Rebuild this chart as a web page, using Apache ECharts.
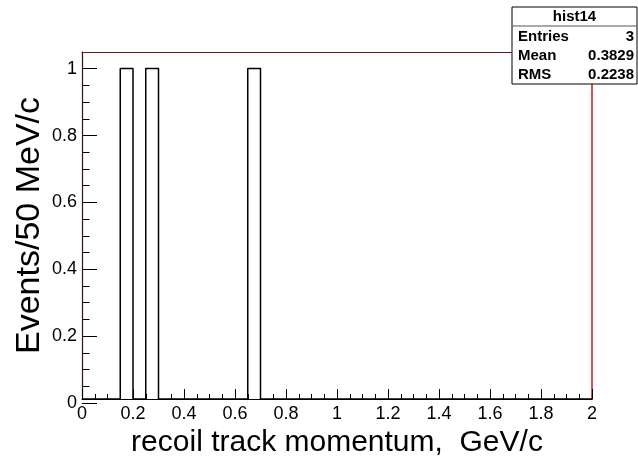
<!DOCTYPE html>
<html><head><meta charset="utf-8">
<script src="https://cdn.jsdelivr.net/npm/echarts@6/dist/echarts.min.js"></script>
<style>html,body{margin:0;padding:0;background:#fff}#c{width:638px;height:463px}</style>
</head><body><div id="c"></div>
<script>
// histogram: 40 bins of 50 MeV/c from 0 to 2 GeV/c
const binLow = 0;
const binWidth = 0.05;
const counts = [0,0,0,1,0,1,0,0,0,0,
                0,0,0,1,0,0,0,0,0,0,
                0,0,0,0,0,0,0,0,0,0,
                0,0,0,0,0,0,0,0,0,0];
const xRange = [0, 2];
const yRange = [0, 1.05];
const yTickMax = 1;
const statsTitle = 'hist14';
const statsNames = ['Entries', 'Mean', 'RMS'];
const statsValues = ['3', '0.3829', '0.2238'];
const xTitle = 'recoil track momentum,  GeV/c';
const yTitle = 'Events/50 MeV/c';

const FONT = 'Liberation Sans';
const pts = counts.map((c, i) => [binLow + i * binWidth, c]);
pts.push([binLow + counts.length * binWidth, counts[counts.length - 1]]);

const gl = 82, gr = 46, gt = 52, gb = 60;
const plotH = 463 - gt - gb;
const gt2 = gt + plotH * (yRange[1] - yTickMax) / (yRange[1] - yRange[0]);

const chart = echarts.init(document.getElementById('c'), null, {renderer: 'canvas'});
const boxX = 512, boxY = 7, boxW = 125, boxH = 77;
const rowH = (boxH - 19) / 3;
const graphics = [
  {type: 'rect', z: 100, shape: {x: boxX, y: boxY, width: boxW, height: boxH},
   style: {fill: '#fff', stroke: '#000', lineWidth: 1}},
  {type: 'line', z: 101, shape: {x1: boxX, y1: boxY + 19, x2: boxX + boxW, y2: boxY + 19},
   style: {stroke: '#555', lineWidth: 1}},
  {type: 'text', z: 101, x: boxX + boxW / 2, y: boxY + 10,
   style: {text: statsTitle, font: 'bold 15px "' + FONT + '"', fill: '#000', align: 'center', verticalAlign: 'middle'}}
];
statsNames.forEach((n, i) => {
  const cy = boxY + 19 + rowH * (i + 0.5) + 1;
  graphics.push({type: 'text', z: 101, x: boxX + 6, y: cy,
    style: {text: n, font: 'bold 15px "' + FONT + '"', fill: '#000', align: 'left', verticalAlign: 'middle'}});
  graphics.push({type: 'text', z: 101, x: boxX + boxW - 3, y: cy,
    style: {text: statsValues[i], font: 'bold 15px "' + FONT + '"', fill: '#000', align: 'right', verticalAlign: 'middle'}});
});

chart.setOption({
  animation: false,
  backgroundColor: '#fff',
  textStyle: {fontFamily: FONT},
  grid: [
    {left: gl, right: gr, top: gt, bottom: gb, show: false},
    {left: gl, right: gr, top: gt2, bottom: gb, show: false}
  ],
  xAxis: [
    {gridIndex: 0, type: 'value', min: xRange[0], max: xRange[1], interval: 0.2, position: 'bottom',
     axisLine: {show: true, onZero: false, lineStyle: {color: '#000', width: 1.2}},
     axisTick: {show: true, inside: true, length: 10, lineStyle: {color: '#000', width: 1}},
     minorTick: {show: true, splitNumber: 4, length: 5, lineStyle: {color: '#000', width: 1}},
     splitLine: {show: false},
     axisLabel: {show: true, margin: 6, fontSize: 18, color: '#000', fontFamily: FONT},
     name: xTitle, nameLocation: 'middle', nameGap: 29,
     nameTextStyle: {fontSize: 30, color: '#000', fontFamily: FONT}},
    {gridIndex: 0, type: 'value', min: xRange[0], max: xRange[1], position: 'top',
     axisLine: {show: true, onZero: false, lineStyle: {color: '#6e1a1a', width: 1.2}},
     axisTick: {show: false}, axisLabel: {show: false}, splitLine: {show: false}},
    {gridIndex: 1, type: 'value', min: xRange[0], max: xRange[1], show: false}
  ],
  yAxis: [
    {gridIndex: 0, type: 'value', min: yRange[0], max: yRange[1], position: 'left',
     axisLine: {show: true, onZero: false, lineStyle: {color: '#3a0d0d', width: 1.2}},
     axisTick: {show: false}, axisLabel: {show: false}, splitLine: {show: false},
     name: yTitle, nameLocation: 'middle', nameGap: 35,
     nameTextStyle: {fontSize: 34, color: '#000', fontFamily: FONT}},
    {gridIndex: 0, type: 'value', min: yRange[0], max: yRange[1], position: 'right',
     axisLine: {show: true, onZero: false, lineStyle: {color: '#cc1010', width: 1.5}},
     axisTick: {show: false}, axisLabel: {show: false}, splitLine: {show: false}},
    {gridIndex: 1, type: 'value', min: yRange[0], max: yTickMax, interval: 0.2, position: 'left',
     axisLine: {show: false},
     axisTick: {show: true, inside: true, length: 15, lineStyle: {color: '#000', width: 1}},
     minorTick: {show: true, splitNumber: 4, length: 7.5, lineStyle: {color: '#000', width: 1}},
     splitLine: {show: false},
     axisLabel: {show: true, margin: 5, fontSize: 18, color: '#000', fontFamily: FONT}}
  ],
  series: [{
    type: 'line', xAxisIndex: 0, yAxisIndex: 0, step: 'end', symbol: 'none',
    data: pts, lineStyle: {color: '#000', width: 1.5}, z: 3
  }],
  graphic: graphics
});
</script></body></html>
